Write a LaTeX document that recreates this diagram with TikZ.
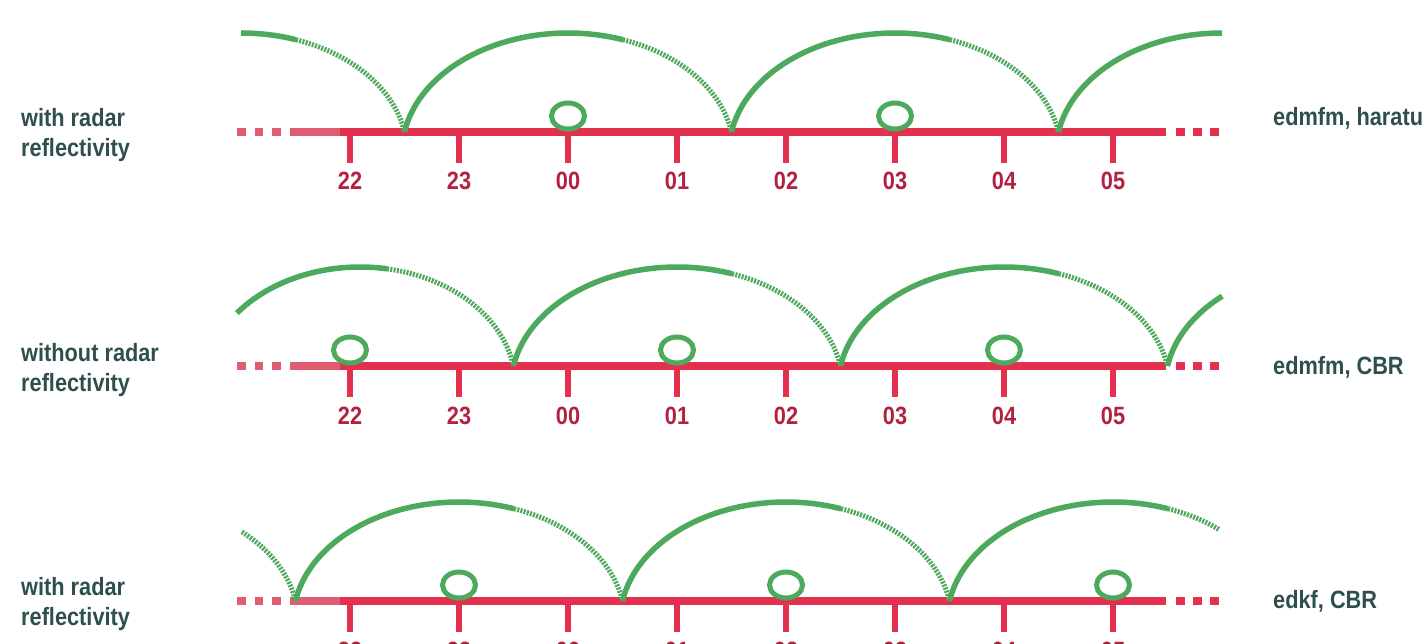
\documentclass[tikz,border=0pt]{standalone}
\usepackage{fontspec}
\newfontfamily\lblfont[FakeStretch=0.87]{Liberation Sans}
\usetikzlibrary{shapes.geometric}
\definecolor{axred}{RGB}{226,48,78}
\definecolor{axpink}{RGB}{224,92,114}
\definecolor{numred}{RGB}{178,34,64}
\definecolor{arcgreen}{RGB}{77,169,91}
\definecolor{txtcol}{RGB}{45,80,78}
% arc of an ellipse whose centre lies 20pt below the axis: peak 99pt above axis
\newcommand\bouncearc[6]{\draw[#1] plot[domain=#5:#6, samples=60] ({#2+#3*cos(\x)},{#4+20-119*sin(\x)});}
\begin{document}
\begin{tikzpicture}[x=1pt,y=-1pt,
  axisline/.style={draw=axred, line width=7.5pt},
  axisfade/.style={draw=axpink, line width=7.5pt},
  tickmark/.style={draw=axred, line width=6pt},
  ticklbl/.style={text=numred, font=\lblfont\bfseries\fontsize{25}{30}\selectfont, anchor=base, inner sep=0pt},
  sidelbl/.style={text=txtcol, font=\lblfont\bfseries\fontsize{25}{30}\selectfont, anchor=base west, inner sep=0pt},
  arcsolid/.style={draw=arcgreen, line width=5.5pt},
  arcdot/.style={draw=arcgreen, line width=5pt, dash pattern=on 2pt off 1.3pt},
  marker/.style={ellipse, draw=arcgreen, line width=5pt, minimum width=33pt, minimum height=26pt, inner sep=0pt}
]
\useasboundingbox (0,0) rectangle (1424,644);
\fill[white] (0,0) rectangle (1424,644);

% axes, ticks and hour labels
\foreach \rowY/\rw in {132/a,366/b,601/c}{
  \draw[axisfade, dash pattern=on 8.5pt off 9pt] (237,\rowY) -- (281,\rowY);
  \draw[axisfade] (290,\rowY) -- (340,\rowY);
  \draw[axisline] (340,\rowY) -- (1166,\rowY);
  \draw[axisline, dash pattern=on 9pt off 8pt] (1176,\rowY) -- (1220,\rowY);
  \foreach \lbl [count=\i from 0] in {22,23,00,01,02,03,04,05}{
    \draw[tickmark] (350+109*\i,\rowY) -- (350+109*\i,\rowY+31);
    \node[ticklbl] (n\rw\i) at (350+109*\i,\rowY+58) {\lbl};
  }
}

% row 1 arcs
\bouncearc{arcsolid}{241}{165.86}{132}{90}{70.6}
\bouncearc{arcdot}{241}{165.86}{132}{70.6}{9.68}
\bouncearc{arcsolid}{568}{165.86}{132}{170.32}{70.6}
\bouncearc{arcdot}{568}{165.86}{132}{70.6}{9.68}
\bouncearc{arcsolid}{895}{165.86}{132}{170.32}{70.6}
\bouncearc{arcdot}{895}{165.86}{132}{70.6}{9.68}
\bouncearc{arcsolid}{1222}{165.86}{132}{170.32}{90}

% row 2 arcs
\bouncearc{arcsolid}{360}{155.7}{366}{142.2}{80}
\bouncearc{arcdot}{360}{155.7}{366}{80}{9.68}
\bouncearc{arcsolid}{677}{165.86}{366}{170.32}{70.6}
\bouncearc{arcdot}{677}{165.86}{366}{70.6}{9.68}
\bouncearc{arcsolid}{1004}{165.86}{366}{170.32}{70.6}
\bouncearc{arcdot}{1004}{165.86}{366}{70.6}{9.68}
\bouncearc{arcsolid}{1331}{165.86}{366}{170.32}{131}

% row 3 arcs
\bouncearc{arcdot}{132}{165.86}{601}{48.5}{9.68}
\bouncearc{arcsolid}{459}{165.86}{601}{170.32}{70.6}
\bouncearc{arcdot}{459}{165.86}{601}{70.6}{9.68}
\bouncearc{arcsolid}{786}{165.86}{601}{170.32}{70.6}
\bouncearc{arcdot}{786}{165.86}{601}{70.6}{9.68}
\bouncearc{arcsolid}{1113}{165.86}{601}{170.32}{70.6}
\bouncearc{arcdot}{1113}{165.86}{601}{70.6}{50}

% markers
\node[marker] (ma2) at (568,116) {};
\node[marker] (ma5) at (895,116) {};
\node[marker] (mb0) at (350,350) {};
\node[marker] (mb3) at (677,350) {};
\node[marker] (mb6) at (1004,350) {};
\node[marker] (mc1) at (459,585) {};
\node[marker] (mc4) at (786,585) {};
\node[marker] (mc7) at (1113,585) {};

% side labels
\node[sidelbl] (la1) at (21,127) {with radar};
\node[sidelbl] (la2) at (21,157) {reflectivity};
\node[sidelbl] (lb1) at (21,361) {without radar};
\node[sidelbl] (lb2) at (21,391) {reflectivity};
\node[sidelbl] (lc1) at (21,595) {with radar};
\node[sidelbl] (lc2) at (21,625) {reflectivity};

\node[sidelbl] (ra) at (1273,126) {edmfm, haratu};
\node[sidelbl] (rb) at (1273,374) {edmfm, CBR};
\node[sidelbl] (rc) at (1273,608) {edkf, CBR};
\end{tikzpicture}
\end{document}
